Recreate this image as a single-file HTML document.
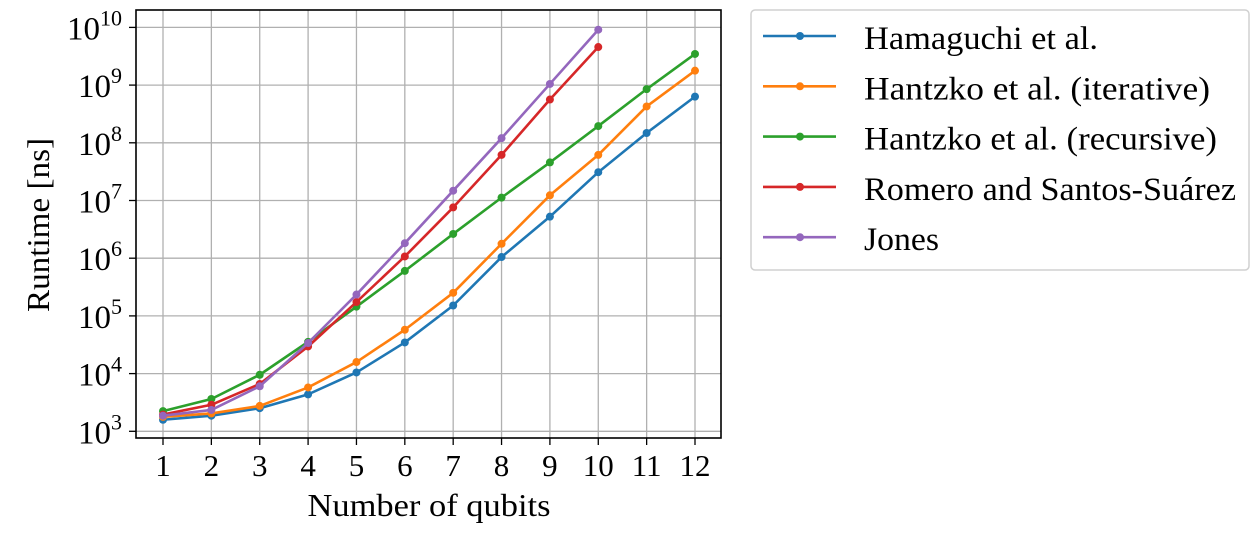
<!DOCTYPE html>
<html><head><meta charset="utf-8"><style>
html,body{margin:0;padding:0;background:#fff;}
svg text{font-family:"Liberation Serif",serif;fill:#000;}
</style></head><body>
<svg id="chart" width="1260" height="531" viewBox="0 0 1260 531" xmlns="http://www.w3.org/2000/svg">
<g id="grid"></g>
<g id="series"></g>
<rect x="136" y="10" width="585" height="428" fill="none" stroke="#000" stroke-width="1.6"/>
<g id="ticks"></g>
<text x="429" y="516" font-size="32" text-anchor="middle" textLength="243" lengthAdjust="spacingAndGlyphs">Number of qubits</text>
<text transform="translate(49,225) rotate(-90)" font-size="32" text-anchor="middle" textLength="174" lengthAdjust="spacingAndGlyphs">Runtime [ns]</text>
<rect x="751" y="10" width="498" height="260" rx="4" fill="#fff" stroke="#d0d0d0" stroke-width="1.5"/>
<g id="legend"></g>
</svg>
<script>
const qubits = [1,2,3,4,5,6,7,8,9,10,11,12];
const seriesNames = ["Hamaguchi et al.","Hantzko et al. (iterative)","Hantzko et al. (recursive)","Romero and Santos-Suárez","Jones"];
const seriesColors = ["#1f77b4","#ff7f0e","#2ca02c","#d62728","#9467bd"];
const hamaguchiLog = [3.20,3.27,3.40,3.64,4.02,4.54,5.18,6.02,6.72,7.49,8.17,8.80];
const hantzkoIterLog = [3.25,3.31,3.44,3.76,4.20,4.76,5.40,6.25,7.09,7.79,8.63,9.25];
const hantzkoRecLog = [3.35,3.56,3.98,4.55,5.16,5.78,6.42,7.05,7.66,8.29,8.93,9.54];
const romeroLog = [3.29,3.46,3.82,4.47,5.24,6.03,6.88,7.79,8.75,9.66];
const jonesLog = [3.27,3.37,3.78,4.53,5.37,6.26,7.17,8.08,9.02,9.96];
const yTickExps = [3,4,5,6,7,8,9,10];
const legendTextWidths = [234,346,353,372,75];

const NS="http://www.w3.org/2000/svg";
const xs = q => 163 + (q-1)*(695-163)/11;
const ys = l => 431.3 - (l-3)*57.7;
function mk(tag, attrs, parent){const e=document.createElementNS(NS,tag);for(const k in attrs)e.setAttribute(k,attrs[k]);parent.appendChild(e);return e;}
const grid=document.getElementById('grid'), ticks=document.getElementById('ticks'), ser=document.getElementById('series'), leg=document.getElementById('legend');

qubits.forEach(q=>{
  const x=xs(q);
  const g=mk('line',{x1:x,x2:x,y1:10,y2:438,stroke:'#b0b0b0','stroke-width':1.3},grid);
  
  
  const t=mk('line',{x1:x,x2:x,y1:438,y2:445,stroke:'#000','stroke-width':1.3},ticks);
  
  
  const l=mk('text',{x:x,y:476,'font-size':31,'text-anchor':'middle'},ticks);
  l.textContent=q;
  
  
});
yTickExps.forEach(e=>{
  const y=ys(e);
  const g=mk('line',{x1:136,x2:721,y1:y,y2:y,stroke:'#b0b0b0','stroke-width':1.3},grid);
  
  
  const t=mk('line',{x1:129,x2:136,y1:y,y2:y,stroke:'#000','stroke-width':1.3},ticks);
  
  
  const l=mk('text',{x:122,y:y+12,'font-size':33,'text-anchor':'end'},ticks);
  
  
  const b=mk('tspan',{},l); b.textContent='10';
  const s=mk('tspan',{dy:-14,'font-size':22}, l); s.textContent=String(e);
});
const allSeries=[hamaguchiLog,hantzkoIterLog,hantzkoRecLog,romeroLog,jonesLog];
allSeries.forEach((vals,i)=>{
  const pts=vals.map((v,j)=>xs(qubits[j])+','+ys(v)).join(' ');
  const g=mk('g',{},ser);
  
  
  const pl=mk('polyline',{points:pts,fill:'none',stroke:seriesColors[i],'stroke-width':2.6,'stroke-linejoin':'round'},g);
  
  
  vals.forEach((v,j)=>{
    const c=mk('circle',{cx:xs(qubits[j]),cy:ys(v),r:4,fill:seriesColors[i]},g);
    
    
  });
});
seriesNames.forEach((n,i)=>{
  const y=36+i*50.3;
  const g=mk('g',{},leg);
  
  
  mk('line',{x1:763,x2:836,y1:y,y2:y,stroke:seriesColors[i],'stroke-width':2.6},g);
  mk('circle',{cx:800,cy:y,r:4,fill:seriesColors[i]},g);
  const t=mk('text',{x:864,y:y+13,'font-size':33,textLength:legendTextWidths[i],lengthAdjust:'spacingAndGlyphs'},g);
  t.textContent=n;
});
</script>
</body></html>
